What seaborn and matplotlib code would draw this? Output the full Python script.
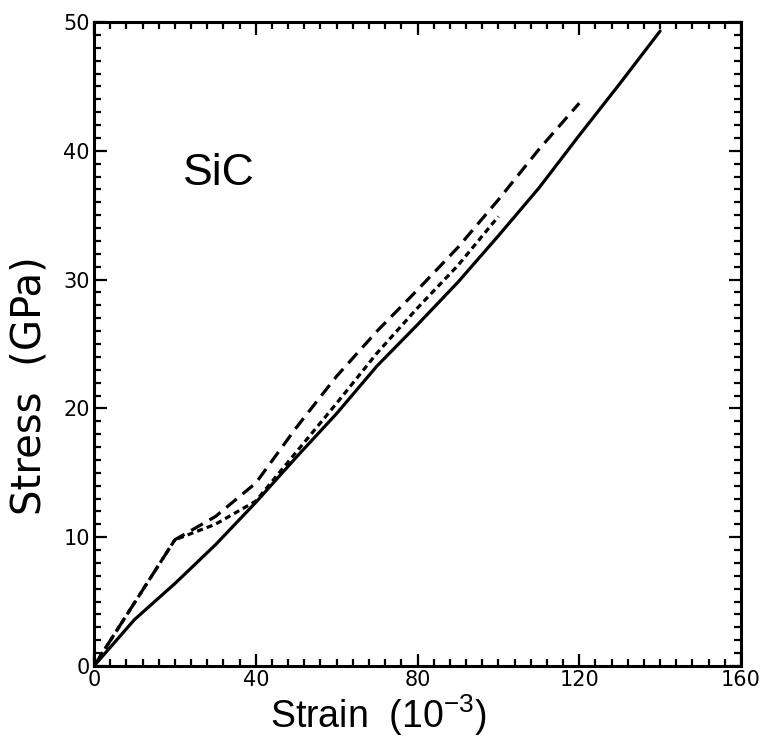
import numpy as np
import pandas as pd
import matplotlib
matplotlib.use("Agg")
import matplotlib.pyplot as plt
from matplotlib.ticker import MultipleLocator
import seaborn as sns

# Stress-strain curves for SiC (strain in units of 1e-3, stress in GPa)
strain_solid = [0, 10, 20, 30, 40, 50, 60, 70, 80, 90, 100, 110, 120, 130, 140]
stress_solid = [0, 3.6, 6.4, 9.4, 12.7, 16.2, 19.6, 23.3, 26.5, 29.8, 33.4, 37.1, 41.2, 45.2, 49.3]

strain_dashed = [0, 10, 20, 30, 40, 50, 60, 70, 80, 90, 100, 110, 120]
stress_dashed = [0, 4.9, 9.8, 11.6, 14.2, 18.5, 22.5, 26.0, 29.2, 32.5, 36.2, 40.1, 43.7]

strain_dotted = [0, 10, 20, 30, 40, 50, 60, 70, 80, 90, 100]
stress_dotted = [0, 4.9, 9.8, 11.0, 12.8, 16.6, 20.4, 24.3, 27.8, 31.1, 34.9]

series_names = ["solid", "dashed", "dotted"]

df = pd.concat([
    pd.DataFrame({"strain": strain_solid, "stress": stress_solid, "curve": "solid"}),
    pd.DataFrame({"strain": strain_dashed, "stress": stress_dashed, "curve": "dashed"}),
    pd.DataFrame({"strain": strain_dotted, "stress": stress_dotted, "curve": "dotted"}),
], ignore_index=True)

sns.set_theme(style="ticks")
plt.rcParams["font.family"] = ["Liberation Sans", "DejaVu Sans"]
plt.rcParams["mathtext.fontset"] = "custom"
plt.rcParams["mathtext.rm"] = "Liberation Sans"
plt.rcParams["mathtext.it"] = "Liberation Sans"
plt.rcParams["text.color"] = "black"
plt.rcParams["axes.labelcolor"] = "black"
plt.rcParams["xtick.color"] = "black"
plt.rcParams["ytick.color"] = "black"

fig = plt.figure(figsize=(7.68, 7.39), dpi=100)
ax = fig.add_axes([94 / 768, 1 - 666 / 739, (741 - 94) / 768, (666 - 22) / 739])

dash_map = {"solid": "", "dashed": (4.2, 2.4), "dotted": (1.9, 1.3)}
sns.lineplot(data=df, x="strain", y="stress", style="curve", style_order=series_names,
             dashes=dash_map, color="black", linewidth=2.3, sort=False,
             estimator=None, legend=False, ax=ax)

ax.set_xlim(0, 160)
ax.set_ylim(0, 50)
ax.xaxis.set_major_locator(MultipleLocator(40))
ax.xaxis.set_minor_locator(MultipleLocator(4))
ax.yaxis.set_major_locator(MultipleLocator(10))
ax.yaxis.set_minor_locator(MultipleLocator(1))

ax.tick_params(which="both", direction="in", top=True, right=True, width=1.6,
               color="black", labelcolor="black", labelsize=15, pad=3)
ax.tick_params(which="major", length=9)
ax.tick_params(which="minor", length=5)
for lbl in ax.get_xticklabels() + ax.get_yticklabels():
    lbl.set_fontfamily("DejaVu Sans")
for sp in ax.spines.values():
    sp.set_linewidth(2.2)
    sp.set_color("black")

ax.set_xlabel("Strain  (10$^{-3}$)", fontsize=27)
ax.xaxis.label.set_va("baseline")
ax.xaxis.set_label_coords(0.44, -0.0963)

ax.set_ylabel("Stress  (GPa)", fontsize=29, family="DejaVu Sans")
ax.yaxis.label.set_va("center")
ax.yaxis.set_label_coords(-0.099, 0.436)

ax.text(0.1376, 0.747, "SiC", transform=ax.transAxes, fontsize=32,
        ha="left", va="baseline", color="black")

fig.savefig("out.png", dpi=100)
